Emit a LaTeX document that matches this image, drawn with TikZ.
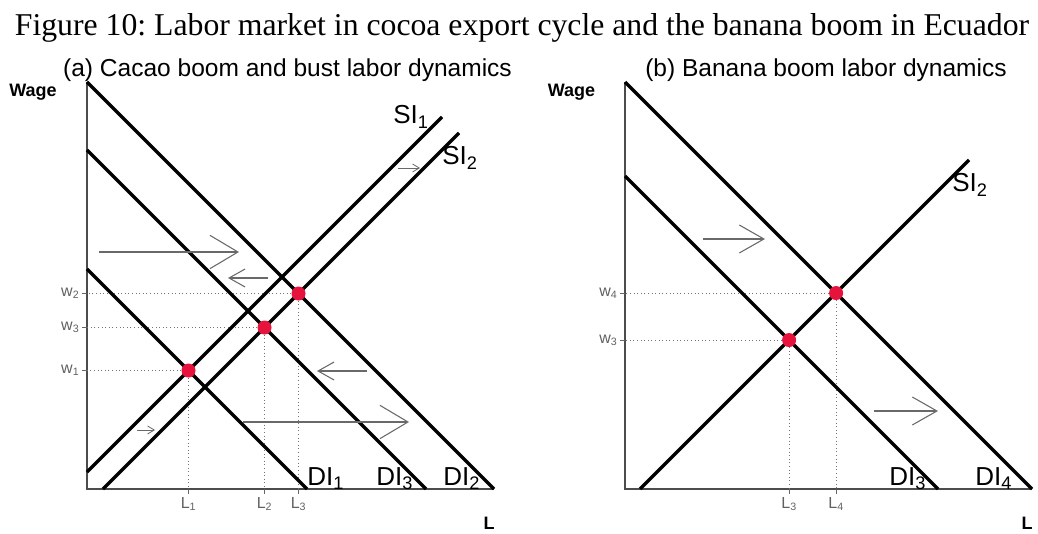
\documentclass[tikz,border=0pt]{standalone}
\usepackage{fontspec}
\setmainfont{Liberation Serif}
\setsansfont{Liberation Sans}
\usetikzlibrary{arrows.meta}
\definecolor{dotred}{RGB}{230,20,60}
\definecolor{movegray}{RGB}{105,105,105}

\begin{document}
\begin{tikzpicture}[x=0.75pt, y=-0.75pt,
  curve/.style={line width=2.6pt, black},
  axisline/.style={line width=0.8pt, black!70},
  guide/.style={line width=0.7pt, dotted, black!55},
  tickmark/.style={line width=0.7pt, black!60},
  eqdot/.style={circle, fill=dotred, inner sep=0pt, minimum size=10.5pt},
  ticklab/.style={font=\sffamily\fontsize{12}{14}\selectfont, text=black!62, inner sep=1pt},
  curvelab/.style={font=\sffamily\fontsize{19.5}{22}\selectfont, anchor=base west, inner sep=0pt},
  axislab/.style={font=\sffamily\bfseries\fontsize{13.5}{16}\selectfont, anchor=base, inner sep=0pt},
  paneltitle/.style={font=\sffamily\fontsize{18.4}{22}\selectfont, anchor=base, inner sep=0pt},
  bigmove/.style={movegray, line width=0.8pt, -{Straight Barb[length=21pt, width=25pt]}},
  widemove/.style={movegray, line width=0.8pt, -{Straight Barb[length=18.5pt, width=21pt]}},
  midmove/.style={movegray, line width=0.8pt, -{Straight Barb[length=12pt, width=13.5pt]}},
  smallmove/.style={movegray, line width=0.6pt, -{Straight Barb[length=5pt, width=6pt]}},
]
\useasboundingbox (0,0) rectangle (1038,534);

% titles
\node[font=\fontsize{23.8}{28}\selectfont, anchor=base, inner sep=0pt] (fig) at (522,36)
  {\frenchspacing Figure 10: Labor market in cocoa export cycle and the banana boom in Ecuador};
\node[paneltitle] (titleA) at (287.5,77) {(a) Cacao boom and bust labor dynamics};
\node[paneltitle] (titleB) at (826,77) {(b) Banana boom labor dynamics};

% ---------- panel (a) ----------
\coordinate (oA) at (87,489);
\coordinate (dA1s) at (87,269);  \coordinate (dA1e) at (307,489);
\coordinate (dA3s) at (87,150);  \coordinate (dA3e) at (426,489);
\coordinate (dA2s) at (87,82);   \coordinate (dA2e) at (494,489);
\coordinate (sA1s) at (87,472);  \coordinate (sA1e) at (442,117);
\coordinate (sA2s) at (103,489); \coordinate (sA2e) at (459,133);
\coordinate (eA1) at (intersection of dA1s--dA1e and sA1s--sA1e);
\coordinate (eA3) at (intersection of dA3s--dA3e and sA2s--sA2e);
\coordinate (eA2) at (intersection of dA2s--dA2e and sA2s--sA2e);

\draw[axisline] (dA2s) -- (oA) -- (dA2e);
\foreach \e/\w/\l in {eA1/1/1, eA3/3/2, eA2/2/3} {
  \draw[guide] (\e) -- (\e -| oA);
  \draw[guide] (\e) -- (\e |- oA);
  \draw[tickmark] (\e -| oA) -- ++(-5,0);
  \draw[tickmark] (\e |- oA) -- ++(0,5);
  \node[ticklab, anchor=east] (wA\w) at ([xshift=-4.5pt]\e -| oA) {w\textsubscript{\w}};
  \node[ticklab, anchor=north] (lA\l) at ([yshift=-5pt]\e |- oA) {L\textsubscript{\l}};
}
\draw[curve] (dA1s) -- (dA1e);
\draw[curve] (dA3s) -- (dA3e);
\draw[curve] (dA2s) -- (dA2e);
\draw[curve] (sA1s) -- (sA1e);
\draw[curve] (sA2s) -- (sA2e);
\node[eqdot] (dotA1) at (eA1) {};
\node[eqdot] (dotA3) at (eA3) {};
\node[eqdot] (dotA2) at (eA2) {};

\node[curvelab] (labDA1) at (307,485) {DI\textsubscript{1}};
\node[curvelab] (labDA3) at (376,485) {DI\textsubscript{3}};
\node[curvelab] (labDA2) at (443,485) {DI\textsubscript{2}};
\node[curvelab] (labSA1) at (393,124) {SI\textsubscript{1}};
\node[curvelab] (labSA2) at (442,165) {SI\textsubscript{2}};
\node[axislab] (wageA) at (33,97) {Wage};
\node[axislab] (laborA) at (489,529) {L};

\coordinate (mA1s) at (99,252);  \coordinate (mA1e) at (239,252);
\coordinate (mA2s) at (268,278); \coordinate (mA2e) at (228,278);
\coordinate (mA3s) at (398,168); \coordinate (mA3e) at (420,168);
\coordinate (mA4s) at (137,430); \coordinate (mA4e) at (155,430);
\coordinate (mA5s) at (367,371); \coordinate (mA5e) at (317,371);
\coordinate (mA6s) at (243,422); \coordinate (mA6e) at (409,422);
\draw[bigmove] (mA1s) -- (mA1e);
\draw[midmove] (mA2s) -- (mA2e);
\draw[smallmove] (mA3s) -- (mA3e);
\draw[smallmove] (mA4s) -- (mA4e);
\draw[midmove] (mA5s) -- (mA5e);
\draw[bigmove] (mA6s) -- (mA6e);

% ---------- panel (b) ----------
\coordinate (oB) at (625,489);
\coordinate (dB3s) at (625,176); \coordinate (dB3e) at (938,489);
\coordinate (dB4s) at (625,82);  \coordinate (dB4e) at (1032,489);
\coordinate (sB2s) at (640,489); \coordinate (sB2e) at (969,160);
\coordinate (eB3) at (intersection of dB3s--dB3e and sB2s--sB2e);
\coordinate (eB4) at (intersection of dB4s--dB4e and sB2s--sB2e);

\draw[axisline] (dB4s) -- (oB) -- (dB4e);
\foreach \e/\n in {eB3/3, eB4/4} {
  \draw[guide] (\e) -- (\e -| oB);
  \draw[guide] (\e) -- (\e |- oB);
  \draw[tickmark] (\e -| oB) -- ++(-5,0);
  \draw[tickmark] (\e |- oB) -- ++(0,5);
  \node[ticklab, anchor=east] (wB\n) at ([xshift=-4.5pt]\e -| oB) {w\textsubscript{\n}};
  \node[ticklab, anchor=north] (lB\n) at ([yshift=-5pt]\e |- oB) {L\textsubscript{\n}};
}
\draw[curve] (dB3s) -- (dB3e);
\draw[curve] (dB4s) -- (dB4e);
\draw[curve] (sB2s) -- (sB2e);
\node[eqdot] (dotB3) at (eB3) {};
\node[eqdot] (dotB4) at (eB4) {};

\node[curvelab] (labDB3) at (889,485) {DI\textsubscript{3}};
\node[curvelab] (labDB4) at (975,485) {DI\textsubscript{4}};
\node[curvelab] (labSB2) at (952,192) {SI\textsubscript{2}};
\node[axislab] (wageB) at (571.5,97) {Wage};
\node[axislab] (laborB) at (1027,529) {L};

\coordinate (mB1s) at (703,239); \coordinate (mB1e) at (765,239);
\coordinate (mB2s) at (874,411); \coordinate (mB2e) at (938,411);
\draw[widemove] (mB1s) -- (mB1e);
\draw[widemove] (mB2s) -- (mB2e);
\end{tikzpicture}
\end{document}
